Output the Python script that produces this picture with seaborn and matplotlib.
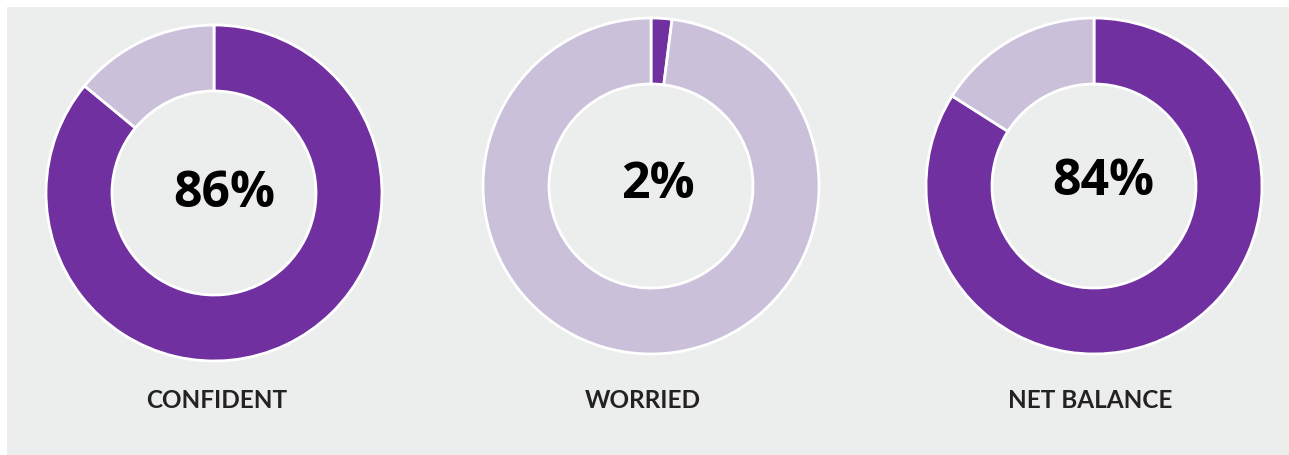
import matplotlib
matplotlib.use("Agg")
import matplotlib.pyplot as plt
import seaborn as sns
from matplotlib.patches import Rectangle

# Chart data
labels = ["CONFIDENT", "WORRIED", "NET BALANCE"]
shares = [86, 2, 84]

# Layout (pixel coords)
centers_x = [214, 651, 1094]
centers_y = [193, 186, 186]
text_x = [224, 658, 1103]
text_y = [194, 185, 182]
label_x = [217, 643, 1090]
radius = 168
ring_width = 66

purple = "#7030A0"
lilac = "#CBC0DA"
bg = "#ECEDED"

sns.set_theme(style="white")
plt.rcParams['font.family'] = ['Open Sans', 'DejaVu Sans']

W, H = 1289, 455
fig = plt.figure(figsize=(W / 100, H / 100), dpi=100, facecolor="white")
ax = fig.add_axes([0, 0, 1, 1])
ax.set_xlim(0, W)
ax.set_ylim(0, H)
ax.set_aspect("equal")
ax.axis("off")

ax.add_patch(Rectangle((7, 0), W - 7, H - 7, facecolor=bg, edgecolor="none", zorder=0))

for i, (lab, val) in enumerate(zip(labels, shares)):
    cx, cy = centers_x[i], H - centers_y[i]
    ax.pie([val, 100 - val], colors=[purple, lilac], startangle=90, counterclock=False,
           center=(cx, cy), radius=radius,
           wedgeprops=dict(width=ring_width, edgecolor="white", linewidth=2))
    ax.text(text_x[i], H - text_y[i], f"{val}%", ha="center", va="center",
            fontsize=36, fontweight="bold", color="black")
    ax.text(label_x[i], H - 401, lab, ha="center", va="center",
            fontsize=17.5, fontweight="bold", color="#222222", family=["Lato", "DejaVu Sans"])

ax.set_xlim(0, W)
ax.set_ylim(0, H)

fig.savefig("out.png", dpi=100, facecolor="white")
